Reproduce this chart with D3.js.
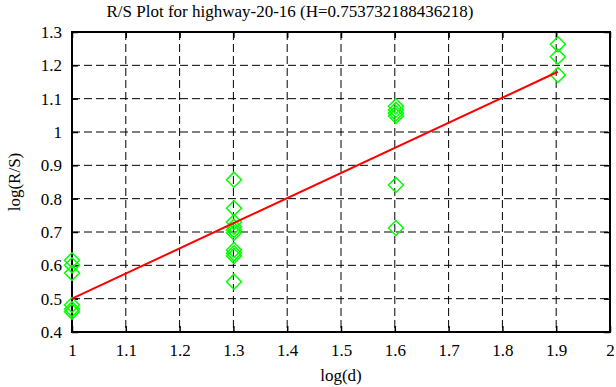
<!DOCTYPE html>
<html><head><meta charset="utf-8">
<script src="https://cdn.jsdelivr.net/npm/d3@7/dist/d3.min.js"></script>
<style>body{margin:0;background:#fff}svg{display:block}text{font-family:"Liberation Serif","Times New Roman",serif;fill:#000}</style>
</head><body><svg id="c" width="616" height="387"></svg>
<script>
const title = "R/S Plot for highway-20-16 (H=0.753732188436218)";
const xTicks = [1,1.1,1.2,1.3,1.4,1.5,1.6,1.7,1.8,1.9,2];
const yTicks = [0.4,0.5,0.6,0.7,0.8,0.9,1,1.1,1.2,1.3];
const logD = [1,1,1,1,1,1,
  1.30103,1.30103,1.30103,1.30103,1.30103,1.30103,1.30103,1.30103,1.30103,1.30103,
  1.60206,1.60206,1.60206,1.60206,1.60206,1.60206,
  1.90309,1.90309,1.90309];
const logRS = [0.615,0.600,0.577,0.481,0.468,0.461,
  0.857,0.771,0.730,0.716,0.706,0.698,0.646,0.636,0.628,0.551,
  1.077,1.066,1.056,1.048,0.841,0.712,
  1.263,1.226,1.171];
const H = 0.753732188436218;
const intercept = -0.2537;

const svg = d3.select("#c");
const L=72,R=610,T=32,B=332;
const x = d3.scaleLinear().domain([1,2]).range([L,R]);
const y = d3.scaleLinear().domain([0.4,1.3]).range([B,T]);

svg.append("rect").attr("width",616).attr("height",387).attr("fill","#fff");

// grid
const g = svg.append("g").attr("stroke","#000").attr("stroke-width",1).attr("stroke-dasharray","8,4");
g.selectAll(".gx").data(xTicks.slice(1,-1)).enter().append("line")
  .attr("x1",d=>x(d)).attr("x2",d=>x(d)).attr("y1",T).attr("y2",B);
g.selectAll(".gy").data(yTicks.slice(1,-1)).enter().append("line")
  .attr("y1",d=>y(d)).attr("y2",d=>y(d)).attr("x1",L).attr("x2",R);

// axes with inward ticks
const ax = svg.append("g");
ax.append("g").attr("transform",`translate(0,${B})`)
  .call(d3.axisBottom(x).tickValues(xTicks).tickSize(-6).tickPadding(12).tickFormat(d3.format("")));
ax.append("g").attr("transform",`translate(0,${T})`)
  .call(d3.axisTop(x).tickValues(xTicks).tickSize(-6).tickFormat(""));
ax.append("g").attr("transform",`translate(${L},0)`)
  .call(d3.axisLeft(y).tickValues(yTicks).tickSize(-6).tickPadding(10).tickFormat(d3.format("")));
ax.append("g").attr("transform",`translate(${R},0)`)
  .call(d3.axisRight(y).tickValues(yTicks).tickSize(-6).tickFormat(""));
ax.selectAll(".domain").remove();
ax.selectAll(".tick line").attr("stroke","#000").attr("stroke-width",1.5);
ax.selectAll("text").attr("font-family","Liberation Serif").attr("font-size",17).attr("fill","#000");

// frame
svg.append("rect").attr("x",L).attr("y",T).attr("width",R-L).attr("height",B-T)
  .attr("fill","none").attr("stroke","#000").attr("stroke-width",2);

// data points
const pts = logD.map((d,i)=>({x:d,y:logRS[i]}));
const s=7.5;
svg.append("g").selectAll("path").data(pts).enter().append("path")
  .attr("d",d=>{const cx=x(d.x),cy=y(d.y);return `M${cx},${cy-s}L${cx+s},${cy}L${cx},${cy+s}L${cx-s},${cy}Z`;})
  .attr("fill","none").attr("stroke","#00ff00").attr("stroke-width",1.5);

// fit line
const x0=d3.min(logD), x1=d3.max(logD);
svg.append("line").attr("x1",x(x0)).attr("y1",y(intercept+H*x0))
  .attr("x2",x(x1)).attr("y2",y(intercept+H*x1))
  .attr("stroke","#ff0000").attr("stroke-width",2);

// labels
svg.append("text").attr("x",290).attr("y",17).attr("text-anchor","middle").attr("font-size",17).text(title);
svg.append("text").attr("x",341).attr("y",381).attr("text-anchor","middle").attr("font-size",17).text("log(d)");
svg.append("text").attr("transform","translate(20,182) rotate(-90)").attr("text-anchor","middle").attr("font-size",17).text("log(R/S)");
</script></body></html>
